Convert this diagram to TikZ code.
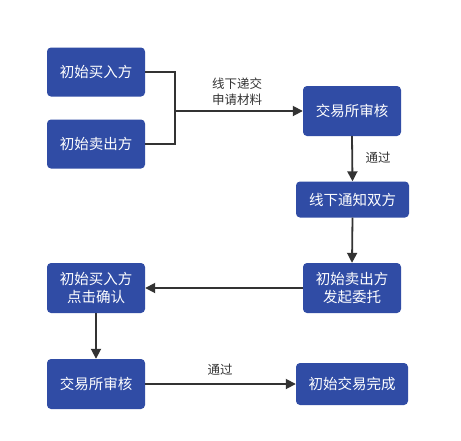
\documentclass[tikz,border=0pt]{standalone}
\usepackage{fontspec}
\setmainfont{Noto Sans CJK SC}
\usetikzlibrary{arrows.meta}
\definecolor{boxblue}{HTML}{304CA5}
\definecolor{linegray}{HTML}{333333}
\begin{document}
\begin{tikzpicture}[x=1pt,y=-1pt,
  box/.style={draw=none,fill=boxblue,rounded corners=4pt,text=white,font=\fontsize{14.5}{18}\selectfont,align=center,inner sep=0pt},
  conn/.style={draw=linegray,line width=1.8pt,-{Triangle[length=10pt,width=10pt]}},
  plain/.style={draw=linegray,line width=1.8pt},
  lbl/.style={font=\fontsize{12.5}{16}\selectfont,text=linegray,align=center,inner sep=0pt}]
\useasboundingbox[fill=white] (0,0) rectangle (461,440);
\node[box,minimum width=98pt,minimum height=49pt] (b1) at (96,72) {初始买入方};
\node[box,minimum width=98pt,minimum height=49pt] (s1) at (96,144) {初始卖出方};
\node[box,minimum width=98pt,minimum height=50pt] (ex1) at (352,111) {交易所审核};
\node[box,minimum width=113pt,minimum height=36pt] (notify) at (352.5,199.5) {线下通知双方};
\node[box,minimum width=98pt,minimum height=50pt] (s2) at (352,288) {初始卖出方\\发起委托};
\node[box,minimum width=98pt,minimum height=50pt] (b2) at (96,288) {初始买入方\\点击确认};
\node[box,minimum width=98pt,minimum height=50pt] (ex2) at (96,384) {交易所审核};
\node[box,minimum width=112pt,minimum height=42pt] (done) at (352,384) {初始交易完成};
\coordinate (j) at (175,111);
\draw[plain] (b1.east) -| (j);
\draw[plain] (s1.east) -| (j);
\draw[conn] (j) -- (ex1.west);
\node[lbl] (l1) at (237,91.5) {线下递交\\申请材料};
\draw[conn] (ex1.south) -- (notify.north);
\node[lbl] (l2) at (378,158) {通过};
\draw[conn] (notify.south) -- (s2.north);
\draw[conn] (s2.west) -- (b2.east);
\draw[conn] (b2.south) -- (ex2.north);
\draw[conn] (ex2.east) -- (done.west);
\node[lbl] (l3) at (220,370) {通过};
\end{tikzpicture}
\end{document}
